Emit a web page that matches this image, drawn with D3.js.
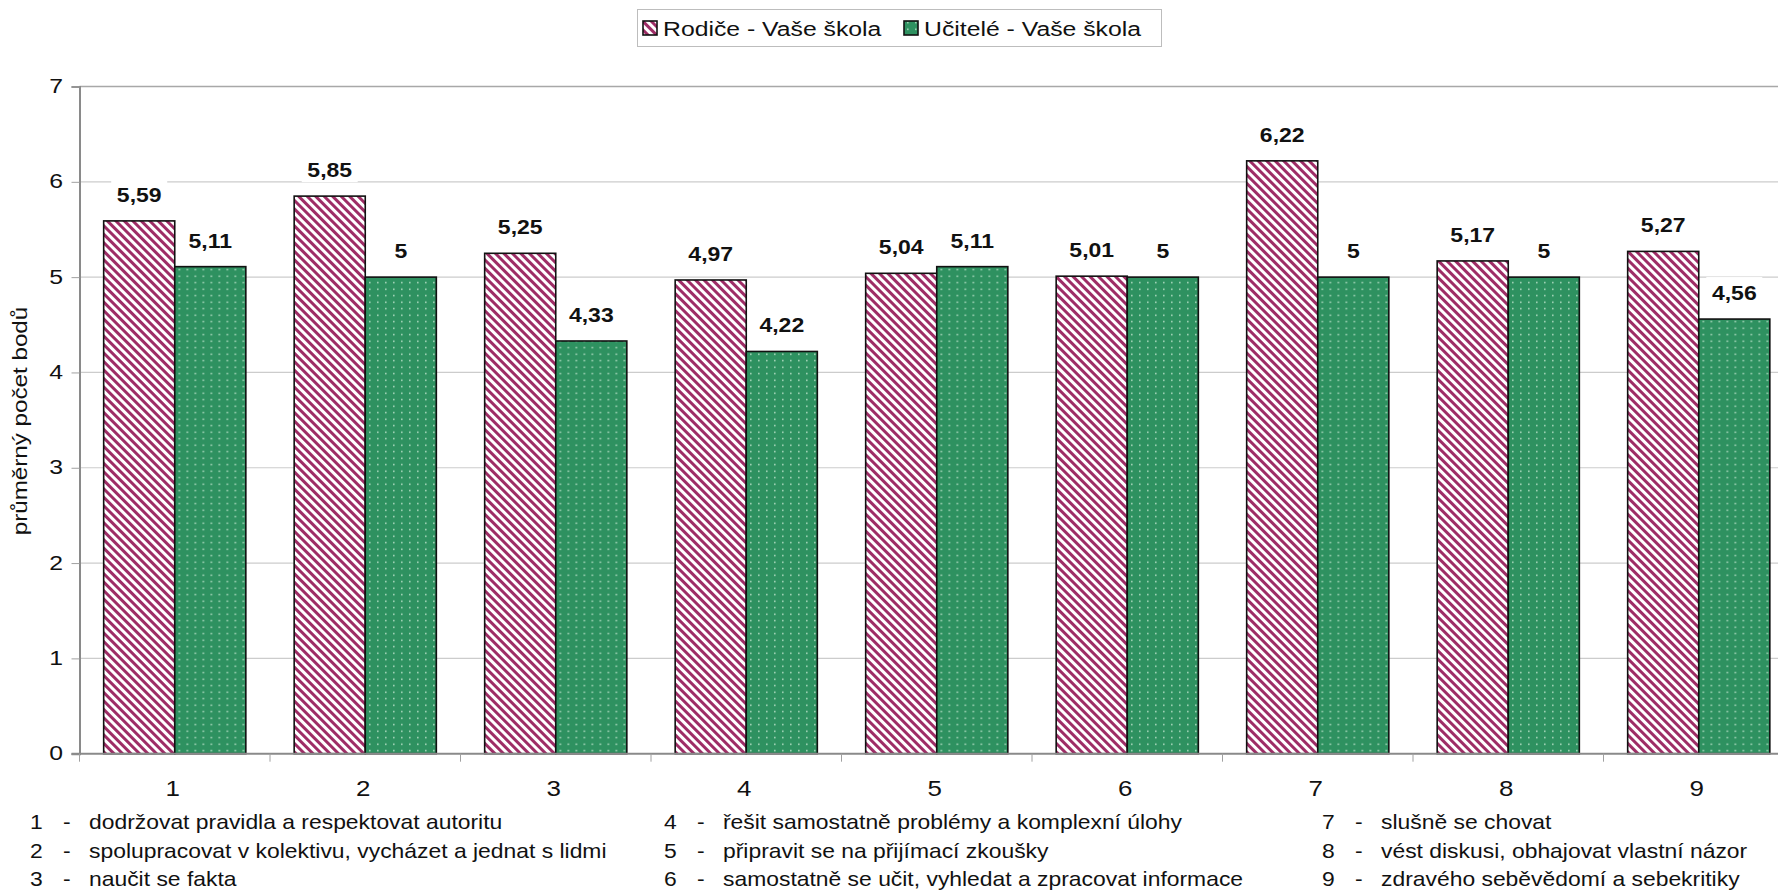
<!DOCTYPE html>
<meta charset="utf-8">
<head>
<style>
  body { margin: 0; background: #fff; }
  svg { display: block; }
  text { font-family: "Liberation Sans", Arial, sans-serif; fill: #111; }
</style>
<script src="https://cdn.jsdelivr.net/npm/d3@7"></script>
</head>
<body>
<script>
const categories = ["1", "2", "3", "4", "5", "6", "7", "8", "9"]
const parents = [5.59, 5.85, 5.25, 4.97, 5.04, 5.01, 6.22, 5.17, 5.27]
const teachers = [5.11, 5, 4.33, 4.22, 5.11, 5, 5, 5, 4.56]
const seriesNames = ["Rodiče - Vaše škola", "Učitelé - Vaše škola"]
const yTicks = [0, 1, 2, 3, 4, 5, 6, 7]
const notes = [
  ["1", "dodržovat pravidla a respektovat autoritu"],
  ["2", "spolupracovat v kolektivu, vycházet a jednat s lidmi"],
  ["3", "naučit se fakta"],
  ["4", "řešit samostatně problémy a komplexní úlohy"],
  ["5", "připravit se na přijímací zkoušky"],
  ["6", "samostatně se učit, vyhledat a zpracovat informace"],
  ["7", "slušně se chovat"],
  ["8", "vést diskusi, obhajovat vlastní názor"],
  ["9", "zdravého seběvědomí a sebekritiky"]
]

const width = 1778
const height = 892
const plot = { left: 79.5, top: 86.5, bottom: 753.7, step: 190.5 }
const sx = 1.18   // the source font runs wider than Arial

const svg = d3.select("body").append("svg")
  .attr("width", width)
  .attr("height", height)

const defs = svg.append("defs")
const stripes = defs.append("pattern")
  .attr("id", "stripes")
  .attr("patternUnits", "userSpaceOnUse")
  .attr("width", 6).attr("height", 6)
  .attr("patternTransform", "rotate(-45)")
stripes.append("rect").attr("width", 6).attr("height", 6).attr("fill", "#fff")
stripes.append("rect").attr("width", 3).attr("height", 6).attr("fill", "#9e2d66")

const dots = defs.append("pattern")
  .attr("id", "dots")
  .attr("patternUnits", "userSpaceOnUse")
  .attr("width", 8).attr("height", 6.5)
dots.append("rect").attr("width", 8).attr("height", 6.5).attr("fill", "#2e9160")
dots.append("rect").attr("x", 3).attr("y", 2.5).attr("width", 1.6).attr("height", 1.4).attr("fill", "#b6dfc6")

const fills = ["url(#stripes)", "url(#dots)"]

const x = d3.scaleBand()
  .domain(categories)
  .range([plot.left, plot.left + plot.step * categories.length])

const xSub = d3.scaleBand()
  .domain([0, 1])
  .range([0, x.bandwidth()])
  .paddingOuter(0.34)

const y = d3.scaleLinear()
  .domain([0, 7])
  .range([plot.bottom, plot.top])

function label(g, tx, ty, str, opts) {
  opts = opts || {}
  return g.append("text")
    .attr("transform", `translate(${tx},${ty}) rotate(${opts.rotate || 0}) scale(${sx},1)`)
    .attr("text-anchor", opts.anchor || "start")
    .attr("font-size", opts.size || 19)
    .attr("font-weight", opts.weight || "normal")
    .text(str)
}

// gridlines
svg.append("g")
  .selectAll("line")
  .data(yTicks.slice(1))
  .enter().append("line")
  .attr("x1", plot.left).attr("x2", width)
  .attr("y1", d => y(d)).attr("y2", d => y(d))
  .attr("stroke", d => d == 7 ? "#a8a8a8" : "#cccccc")
  .attr("stroke-width", d => d == 7 ? 1.6 : 1.2)

// y axis
const yAxis = svg.append("g")
  .attr("transform", `translate(${plot.left},0)`)
  .call(d3.axisLeft(y).tickValues(yTicks).tickSize(8).tickFormat(""))
yAxis.select(".domain").attr("stroke", "#8a8a8a").attr("stroke-width", 2)
yAxis.selectAll(".tick line").attr("stroke", "#a0a0a0")
yTicks.forEach(t => label(svg, 63, y(t) + 6.5, t, { anchor: "end", size: 21 }))

label(svg, 27, 421, "průměrný počet bodů", { anchor: "middle", size: 20.5, rotate: -90 })

// bars
const groups = svg.append("g")
  .selectAll("g")
  .data(categories)
  .enter().append("g")
  .attr("transform", d => `translate(${x(d)},0)`)

groups.selectAll("rect")
  .data((d, i) => [parents[i], teachers[i]])
  .enter().append("rect")
  .attr("x", (d, j) => xSub(j))
  .attr("y", d => y(d))
  .attr("width", xSub.bandwidth())
  .attr("height", d => y(0) - y(d))
  .attr("fill", (d, j) => fills[j])
  .attr("stroke", "#111")
  .attr("stroke-width", 1.6)

// value labels with white box
groups.each(function (d, i) {
  const g = d3.select(this)
  ;[parents[i], teachers[i]].forEach((v, j) => {
    const cx = xSub(j) + xSub.bandwidth() / 2
    const by = y(v) - 19
    const txt = String(v).replace(".", ",")
    const w = txt.length * 11.5 + 10
    g.append("rect")
      .attr("x", cx - w / 2).attr("y", by - 23)
      .attr("width", w).attr("height", 28)
      .attr("fill", "#fff")
    label(g, cx, by, txt, { anchor: "middle", size: 19.5, weight: "bold" })
  })
})

// x axis
const xAxis = svg.append("g")
  .attr("transform", `translate(0,${plot.bottom})`)
xAxis.append("line")
  .attr("x1", plot.left - 8).attr("x2", width)
  .attr("stroke", "#8a8a8a").attr("stroke-width", 2)
xAxis.selectAll(".tk")
  .data(categories)
  .enter().append("line")
  .attr("x1", d => x(d)).attr("x2", d => x(d))
  .attr("y1", 0).attr("y2", 8)
  .attr("stroke", "#a0a0a0")
categories.forEach(c => label(svg, x(c) + x.bandwidth() / 2 - 2, 796, c, { anchor: "middle", size: 22 }))

// legend
const legend = svg.append("g")
legend.append("rect")
  .attr("x", 637.5).attr("y", 9.5).attr("width", 524).attr("height", 37)
  .attr("fill", "#fff").attr("stroke", "#bdbdbd")
const legX = [643, 904]
seriesNames.forEach((name, j) => {
  legend.append("rect")
    .attr("x", legX[j]).attr("y", 21).attr("width", 14).attr("height", 14)
    .attr("fill", fills[j]).attr("stroke", "#111").attr("stroke-width", 1.6)
  label(legend, legX[j] + 20, 36, name, { size: 21 })
})

// category notes
const colX = [30, 664, 1322]
notes.forEach((n, i) => {
  const cx = colX[Math.floor(i / 3)]
  const ty = 829 + (i % 3) * 28.5
  label(svg, cx, ty, n[0], { size: 19.4 })
  label(svg, cx + 33, ty, "-", { size: 19.4 })
  label(svg, cx + 59, ty, n[1], { size: 19.4 })
})
</script>
</body>
